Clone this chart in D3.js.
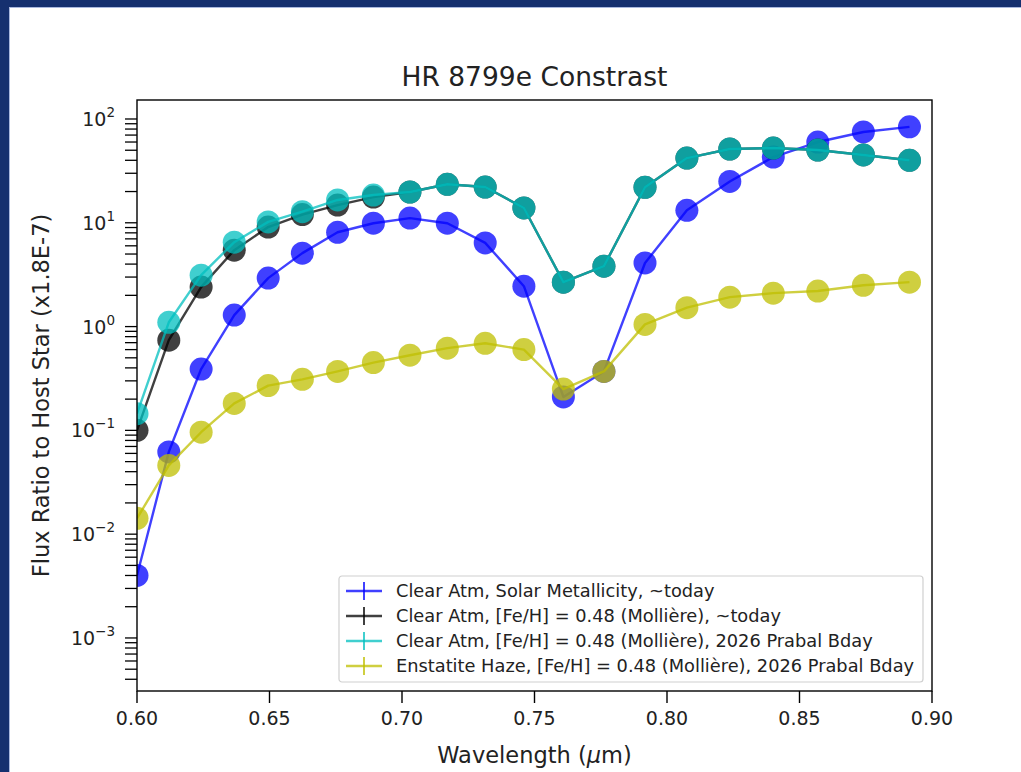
<!DOCTYPE html>
<html>
<head>
<meta charset="utf-8">
<script src="https://cdn.jsdelivr.net/npm/d3@7"></script>
<style>
body { margin: 0; background: #fff; }
svg { display: block; font-family: "DejaVu Sans", sans-serif; }
</style>
</head>
<body>
<svg></svg>
<script>
// wavelengths (micron) of the model points
const wavelength = [0.6000, 0.6120, 0.6242, 0.6367, 0.6495, 0.6624, 0.6757, 0.6892, 0.7030, 0.7171, 0.7314,
    0.7460, 0.7609, 0.7762, 0.7917, 0.8075, 0.8237, 0.8401, 0.8569, 0.8741, 0.8915];

// flux ratios (x1.8E-7)
const clearSolarToday = [0.004, 0.062, 0.39, 1.29, 2.93, 5.1, 8.1, 9.9, 11.1, 9.9, 6.4,
    2.45, 0.21, 0.37, 4.1, 13.2, 25, 43, 60, 75, 84];
const clearMetalToday = [0.10, 0.74, 2.4, 5.45, 9.1, 12.0, 14.8, 17.7, 19.8, 23.5, 22.1,
    13.9, 2.68, 3.82, 22, 42, 51.4, 52.5, 50.2, 45, 40];
const clearMetal2026 = [0.145, 1.10, 3.13, 6.5, 10.2, 12.8, 16.6, 18.5, 19.8, 23.5, 22.1,
    13.9, 2.68, 3.82, 22, 42, 51.4, 52.5, 50.2, 45, 40];
const hazeMetal2026 = [0.0142, 0.046, 0.096, 0.182, 0.27, 0.31, 0.37, 0.45, 0.53, 0.62, 0.69,
    0.60, 0.25, 0.37, 1.05, 1.52, 1.92, 2.1, 2.2, 2.5, 2.68];

const seriesNames = [
    "Clear Atm, Solar Metallicity, ~today",
    "Clear Atm, [Fe/H] = 0.48 (Mollière), ~today",
    "Clear Atm, [Fe/H] = 0.48 (Mollière), 2026 Prabal Bday",
    "Enstatite Haze, [Fe/H] = 0.48 (Mollière), 2026 Prabal Bday"
];
const seriesColors = ["#0000ff", "#000000", "#00bfbf", "#bfbf00"];
const seriesValues = [clearSolarToday, clearMetalToday, clearMetal2026, hazeMetal2026];

const xTicks = [0.60, 0.65, 0.70, 0.75, 0.80, 0.85, 0.90];
const yDecades = [-3, -2, -1, 0, 1, 2];

const width = 1021;
const height = 772;
const margin = { top: 100, right: 89, bottom: 81, left: 137 };
const innerWidth = width - margin.left - margin.right;
const innerHeight = height - margin.top - margin.bottom;

const xScale = d3.scaleLinear()
    .domain([0.60, 0.90])
    .range([0, innerWidth]);

const yScale = d3.scaleLog()
    .domain([Math.pow(10, -3.511), Math.pow(10, 2.183)])
    .range([innerHeight, 0]);

const svg = d3.select("svg")
    .attr("width", width)
    .attr("height", height);

// page frame (navy edge at top and left)
svg.append("rect").attr("x", 0).attr("y", 0).attr("width", width).attr("height", 7).attr("fill", "#15306f");
svg.append("rect").attr("x", 0).attr("y", 0).attr("width", 9).attr("height", height).attr("fill", "#15306f");
svg.append("line").attr("x1", 9.5).attr("x2", 9.5).attr("y1", 7).attr("y2", height)
    .attr("stroke", "#a9b8de").attr("stroke-width", 1);
svg.append("line").attr("x1", 9).attr("x2", width).attr("y1", 7.5).attr("y2", 7.5)
    .attr("stroke", "#a9b8de").attr("stroke-width", 1);

const g = svg.append("g")
    .attr("transform", `translate(${margin.left}, ${margin.top})`);

g.append("clipPath").attr("id", "plot-clip")
    .append("rect").attr("width", innerWidth).attr("height", innerHeight);

// data
const lineGenerator = d3.line()
    .x(d => xScale(d.x))
    .y(d => yScale(d.y));

const marks = g.append("g").attr("clip-path", "url(#plot-clip)");

seriesValues.forEach((values, s) => {
    const pts = values.map((v, i) => ({ x: wavelength[i], y: v }));
    marks.append("path")
        .datum(pts)
        .attr("fill", "none")
        .attr("stroke", seriesColors[s])
        .attr("stroke-opacity", 0.75)
        .attr("stroke-width", 2.4)
        .attr("stroke-linejoin", "round")
        .attr("d", lineGenerator);
    marks.append("g")
        .selectAll("circle")
        .data(pts)
        .enter()
        .append("circle")
        .attr("cx", d => xScale(d.x))
        .attr("cy", d => yScale(d.y))
        .attr("r", 11.5)
        .attr("fill", seriesColors[s])
        .attr("fill-opacity", 0.75);
});

// x axis
const xAxis = g.append("g").attr("transform", `translate(0, ${innerHeight})`);
xAxis.selectAll("line")
    .data(xTicks)
    .enter()
    .append("line")
    .attr("x1", d => xScale(d)).attr("x2", d => xScale(d))
    .attr("y1", 0).attr("y2", 12)
    .attr("stroke", "#000").attr("stroke-width", 1.4);
xAxis.selectAll("text")
    .data(xTicks)
    .enter()
    .append("text")
    .attr("x", d => xScale(d))
    .attr("y", 34)
    .attr("text-anchor", "middle")
    .attr("font-size", "19px")
    .attr("fill", "#222")
    .text(d => d3.format(".2f")(d));

// y axis
const yAxis = g.append("g");
const minorTicks = [];
for (let e = -4; e <= 2; e++) {
    for (let m = 1; m <= 9; m++) {
        const v = m * Math.pow(10, e);
        if (v >= yScale.domain()[0] && v <= yScale.domain()[1]) minorTicks.push(v);
    }
}
yAxis.selectAll("line")
    .data(minorTicks)
    .enter()
    .append("line")
    .attr("x1", -12).attr("x2", 0)
    .attr("y1", d => yScale(d)).attr("y2", d => yScale(d))
    .attr("stroke", "#000").attr("stroke-width", 1.3);

const yLabels = yAxis.selectAll("text")
    .data(yDecades)
    .enter()
    .append("text")
    .attr("x", -22)
    .attr("y", d => yScale(Math.pow(10, d)) + 7)
    .attr("text-anchor", "end")
    .attr("font-size", "19px")
    .attr("fill", "#222");
yLabels.append("tspan").text("10");
yLabels.append("tspan")
    .attr("dy", -9)
    .attr("font-size", "13.5px")
    .text(d => d < 0 ? "\u2212" + Math.abs(d) : String(d));

// frame
g.append("rect")
    .attr("width", innerWidth)
    .attr("height", innerHeight)
    .attr("fill", "none")
    .attr("stroke", "#000")
    .attr("stroke-width", 1.4);

// legend
const legend = g.append("g").attr("transform", `translate(${202}, ${476})`);
legend.append("rect")
    .attr("width", 584).attr("height", 106)
    .attr("rx", 3)
    .attr("fill", "#fff").attr("fill-opacity", 0.8)
    .attr("stroke", "#d0d0d0").attr("stroke-width", 1.2);
const rows = legend.selectAll("g.row")
    .data(seriesNames)
    .enter()
    .append("g")
    .attr("class", "row")
    .attr("transform", (d, i) => `translate(0, ${15 + i * 25})`);
rows.append("line")
    .attr("x1", 7).attr("x2", 43).attr("y1", 0).attr("y2", 0)
    .attr("stroke", (d, i) => seriesColors[i]).attr("stroke-opacity", 0.75).attr("stroke-width", 2.4);
rows.append("line")
    .attr("x1", 25).attr("x2", 25).attr("y1", -9).attr("y2", 9)
    .attr("stroke", (d, i) => seriesColors[i]).attr("stroke-opacity", 0.75).attr("stroke-width", 2);
rows.append("text")
    .attr("x", 57).attr("y", 6)
    .attr("font-size", "17.8px")
    .attr("fill", "#222")
    .text(d => d);

// titles
svg.append("text")
    .attr("x", margin.left + innerWidth / 2)
    .attr("y", 86)
    .attr("text-anchor", "middle")
    .attr("font-size", "26.5px")
    .attr("fill", "#222")
    .text("HR 8799e Constrast");

const xLabel = svg.append("text")
    .attr("x", margin.left + innerWidth / 2)
    .attr("y", 763)
    .attr("text-anchor", "middle")
    .attr("font-size", "22.5px")
    .attr("fill", "#222");
xLabel.append("tspan").text("Wavelength (");
xLabel.append("tspan").attr("font-style", "italic").text("\u03bc");
xLabel.append("tspan").text("m)");

svg.append("text")
    .attr("transform", `translate(49, ${margin.top + innerHeight / 2}) rotate(-90)`)
    .attr("text-anchor", "middle")
    .attr("font-size", "22.5px")
    .attr("fill", "#222")
    .text("Flux Ratio to Host Star (x1.8E-7)");
</script>
</body>
</html>
